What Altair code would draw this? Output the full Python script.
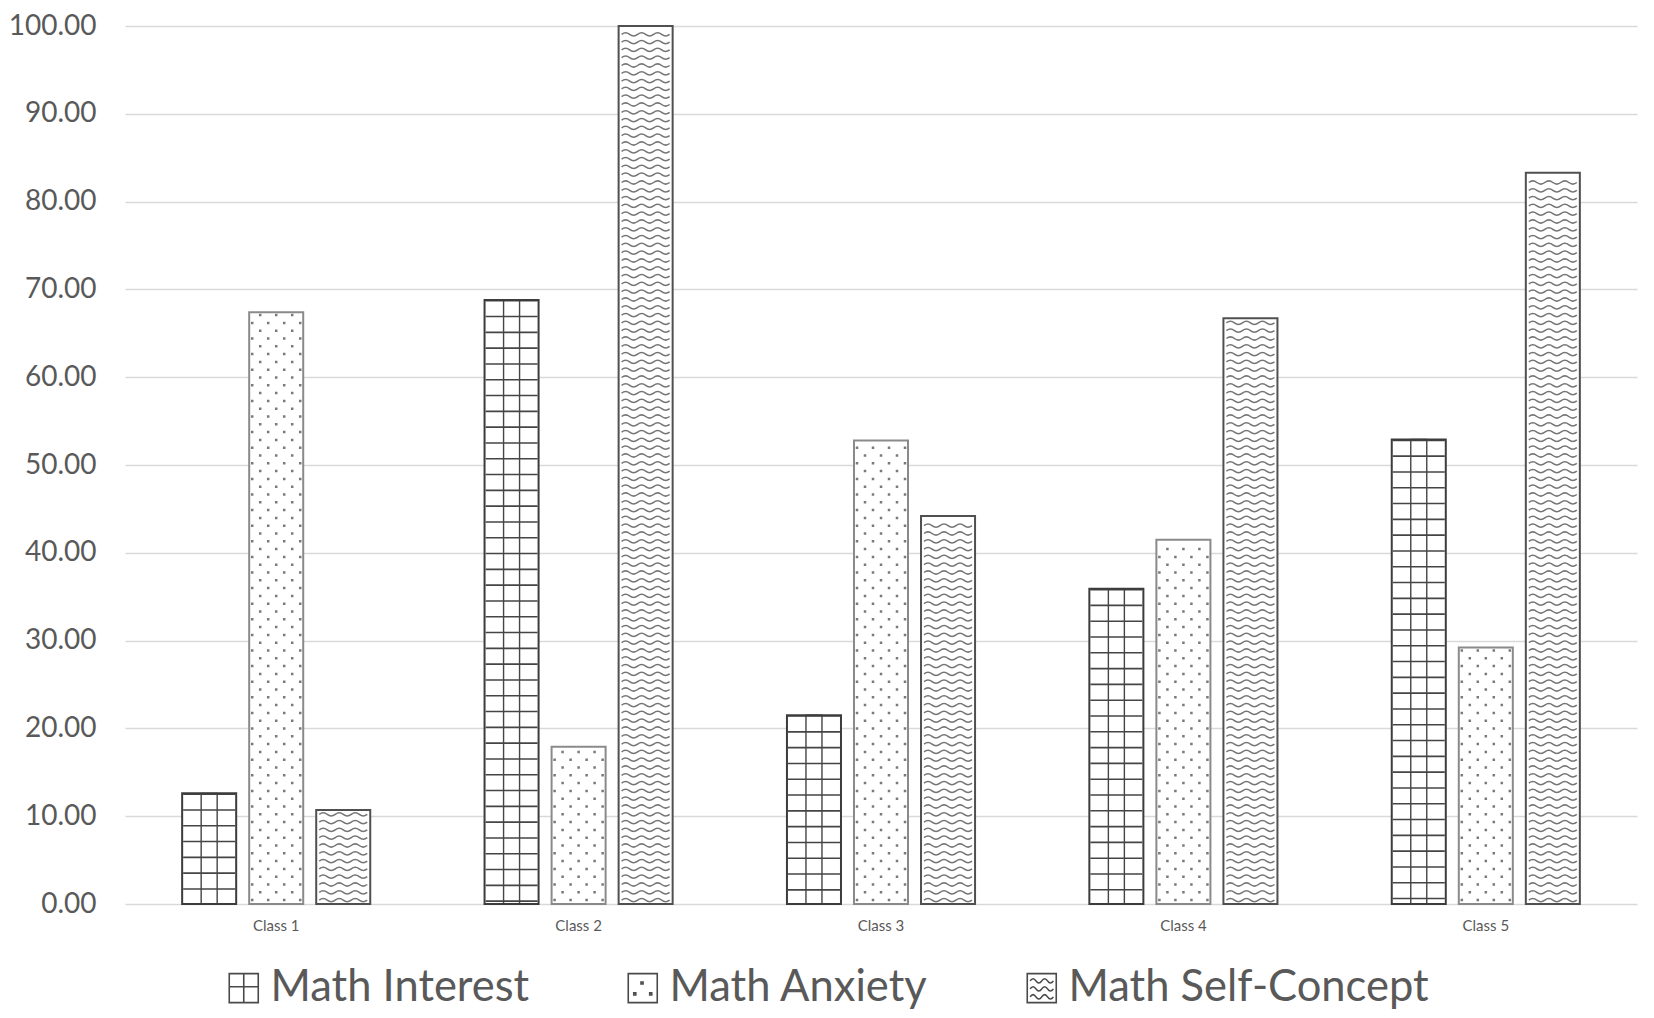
import altair as alt
import pandas as pd

# ---------------- data ----------------
classes = ["Class 1", "Class 2", "Class 3", "Class 4", "Class 5"]
series = ["Math Interest", "Math Anxiety", "Math Self-Concept"]
math_interest = [12.6, 68.8, 21.5, 35.9, 52.9]
math_anxiety = [67.4, 17.9, 52.8, 41.5, 29.2]
math_self_concept = [10.7, 100.0, 44.2, 66.7, 83.3]
y_ticks = [0, 10, 20, 30, 40, 50, 60, 70, 80, 90, 100]
outline_colors = ["#3c3c3c", "#8a8a8a", "#505050"]

PLOT_W, PLOT_H = 1512, 878
PX = 100.0 / PLOT_H  # data units per pixel on the y scale

rows = []
for s, vals in zip(series, [math_interest, math_anxiety, math_self_concept]):
    for c, v in zip(classes, vals):
        rows.append({"cls": c, "series": s, "value": v})
bars = pd.DataFrame(rows)

# pattern rows (fill texture) derived from the bar values
pat = []
dot_step = 7.8 * PX
for c, v in zip(classes, math_anxiety):
    k = 0
    while (k + 0.5) * dot_step <= v - 2.5 * PX:
        pat.append({"cls": c, "series": series[1], "value": (k + 0.5) * dot_step,
                    "kind": "dotA" if k % 2 == 0 else "dotB"})
        k += 1
wave_step = 7.8 * PX
for c, v in zip(classes, math_self_concept):
    k = 0
    while (k + 0.5) * wave_step <= v - 3 * PX:
        pat.append({"cls": c, "series": series[2], "value": (k + 0.5) * wave_step,
                    "kind": "wave"})
        k += 1
pattern = pd.DataFrame(pat)

# ---------------- shapes ----------------
def sq(x, y, h):
    return f"M{x-h:.3f},{y-h:.3f}h{2*h:.3f}v{2*h:.3f}h{-2*h:.3f}Z"

# tile unit = 27 px (symbol size 54^2)
u = 27.0
dotA_path = " ".join(sq(x / u, 0, 1.25 / u) for x in [-24, -8, 8, 24])
dotB_path = " ".join(sq(x / u, 0, 1.25 / u) for x in [-16, 0, 16])
half = 8.0 / u
amp = 3.2 / u
start = -3 * half
wave_path = f"M{start:.3f},0 Q{start+half/2:.3f},{-amp:.3f} {start+half:.3f},0"
for i in range(2, 7):
    wave_path += f" T{start+i*half:.3f},0"

legend_paths = [
    "M-1,-1H1V1H-1Z M-1,-0.1H1 M0,-1V1",
    "M-1,-1H1V1H-1Z " + sq(-0.05, -0.35, 0.07) + " " + sq(-0.55, 0.4, 0.07) + " " + sq(0.55, 0.4, 0.07),
    "M-1,-1H1V1H-1Z M-0.8,-0.5 Q-0.6,-0.8 -0.4,-0.5 T0,-0.5 T0.4,-0.5 T0.8,-0.5 "
    "M-0.8,0.05 Q-0.6,-0.25 -0.4,0.05 T0,0.05 T0.4,0.05 T0.8,0.05 "
    "M-0.8,0.6 Q-0.6,0.3 -0.4,0.6 T0,0.6 T0.4,0.6 T0.8,0.6",
]

# ---------------- encodings ----------------
FONT = "Lato"
x_enc = alt.X("cls:N", sort=classes,
              scale=alt.Scale(domain=classes, paddingInner=0.378, paddingOuter=0.189),
              axis=alt.Axis(title=None, labelAngle=0, ticks=False, domain=False,
                            labelFont=FONT, labelFontSize=15, labelColor="#595959",
                            labelPadding=14))
xo_enc = alt.XOffset("series:N", sort=series,
                     scale=alt.Scale(domain=series, paddingInner=0.194, paddingOuter=0))
y_enc = alt.Y("value:Q",
              scale=alt.Scale(domain=[0, 100], nice=False, zero=True),
              axis=alt.Axis(title=None, values=y_ticks, format=".2f", ticks=False,
                            domain=False, grid=True, gridColor="#d9d9d9", gridWidth=1.5,
                            labelFont=FONT, labelFontSize=28, labelColor="#595959",
                            labelPadding=29))

base = alt.Chart(bars)

fill_bars = base.mark_bar(fill="white").encode(x=x_enc, xOffset=xo_enc, y=y_enc)

grid_h = base.transform_filter(alt.datum.series == series[0]).mark_rule(
    strokeWidth=52, strokeDash=[1.6, 14.2], color="#454545"
).encode(x=x_enc, xOffset=xo_enc, y=y_enc, y2=alt.datum(0))

grid_v = base.transform_filter(alt.datum.series == series[0]).mark_bar(
    width=16, fillOpacity=0, stroke="#454545", strokeWidth=1.4
).encode(x=x_enc, xOffset=xo_enc, y=y_enc)

pbase = alt.Chart(pattern)
dotsA = pbase.transform_filter(alt.datum.kind == "dotA").mark_point(
    shape=dotA_path, size=2916, filled=True, color="#7a7a7a", opacity=1, strokeWidth=0
).encode(x=x_enc, xOffset=xo_enc, y=y_enc)
dotsB = pbase.transform_filter(alt.datum.kind == "dotB").mark_point(
    shape=dotB_path, size=2916, filled=True, color="#7a7a7a", opacity=1, strokeWidth=0
).encode(x=x_enc, xOffset=xo_enc, y=y_enc)
waves = pbase.transform_filter(alt.datum.kind == "wave").mark_point(
    shape=wave_path, size=2916, filled=False, color="#757575", opacity=1, strokeWidth=1.5
).encode(x=x_enc, xOffset=xo_enc, y=y_enc)

outlines = [
    base.transform_filter(alt.datum.series == s).mark_bar(
        fillOpacity=0, strokeWidth=2, stroke=col
    ).encode(x=x_enc, xOffset=xo_enc, y=y_enc)
    for s, col in zip(series, outline_colors)
]

# legend-only layer: zero-size points, the legend draws the pattern icons
legend_layer = base.mark_point(filled=False, size=0).encode(
    x=x_enc, xOffset=xo_enc, y=y_enc,
    shape=alt.Shape("series:N",
                    scale=alt.Scale(domain=series, range=legend_paths),
                    legend=alt.Legend(title=None, orient="none", legendX=97, legendY=940,
                                      direction="horizontal", labelFont=FONT,
                                      labelFontSize=43.5, labelColor="#595959",
                                      labelLimit=1000, labelOffset=5,
                                      columnPadding=91, symbolSize=841,
                                      symbolStrokeColor="#4a4a4a", symbolStrokeWidth=1.6,
                                      symbolFillColor="white", symbolOpacity=1)),
)

chart = alt.layer(
    fill_bars, grid_h, grid_v, dotsA, dotsB, waves, *outlines, legend_layer
).properties(
    width=PLOT_W, height=PLOT_H,
    padding={"left": 0, "top": 4, "right": 5, "bottom": 0},
    background="white",
).configure_view(stroke=None)

chart.save("out.html", embed_options={"renderer": "svg", "actions": False})
